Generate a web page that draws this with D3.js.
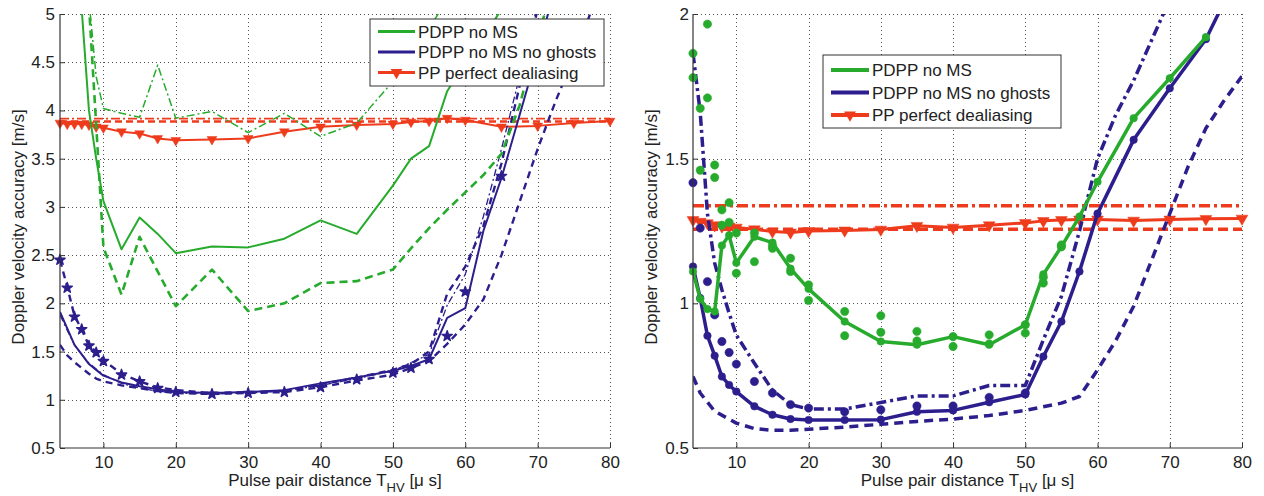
<!DOCTYPE html>
<html><head><meta charset="utf-8">
<script src="https://cdn.jsdelivr.net/npm/d3@7"></script>
<style>
body{margin:0;background:#fff;}
text{font-family:"Liberation Sans",Arial,Helvetica,sans-serif;fill:#222;}
</style></head><body>
<svg id="c" width="1264" height="496"></svg>
<script>
// ---------- tick labels / text ----------
const X_TICKS = [10,20,30,40,50,60,70,80];
const L_Y_TICKS = [0.5,1,1.5,2,2.5,3,3.5,4,4.5,5];
const R_Y_TICKS = [0.5,1,1.5,2];
const LEGEND_LABELS = ["PDPP no MS","PDPP no MS no ghosts","PP perfect dealiasing"];
const Y_LABEL = "Doppler velocity accuracy [m/s]";

// ---------- LEFT PANEL DATA ----------
const L_gS_x  = [6,7,8,9,10,12.5,15,17.5,20,25,30,35,40,45,50,52.5,55,57.5,60,62.5,65];
const L_gS_y  = [6.2,5.05,4.0,3.5,3.06,2.56,2.89,2.72,2.52,2.59,2.58,2.67,2.86,2.72,3.22,3.5,3.63,4.2,4.5,4.75,5.05];
const L_gD_x  = [8,9,10,12.5,15,20,25,30,35,40,45,50,52.5,55,57.5,60,62.5,65,67.5,70,72.5];
const L_gD_y  = [5.1,3.85,2.58,2.09,2.69,1.97,2.35,1.92,2.0,2.21,2.23,2.35,2.57,2.78,2.97,3.15,3.33,3.55,4.05,4.75,5.4];
const L_gDD_x = [7,8,9,10,12.5,15,17.5,20,25,30,35,40,45,50,55,57.5];
const L_gDD_y = [6.5,5.15,4.35,4.02,3.97,3.93,4.47,3.92,3.99,3.77,3.97,3.73,3.87,4.3,4.85,5.15];

const L_rS_x  = [4,5,6,7,8,9,10,12.5,15,17.5,20,25,30,35,40,45,50,52.5,55,57.5,60,65,70,75,80];
const L_rS_y  = [3.87,3.86,3.86,3.86,3.85,3.83,3.82,3.78,3.76,3.71,3.69,3.70,3.71,3.78,3.83,3.85,3.86,3.88,3.89,3.92,3.90,3.83,3.84,3.87,3.89];
const L_rD_x  = [4,80];
const L_rD_y  = [3.885,3.885];
const L_rDD_x = [4,80];
const L_rDD_y = [3.915,3.915];

const L_bS_x  = [4,5,6,7,8,9,10,12.5,15,17.5,20,25,30,35,40,45,50,52.5,55,57.5,60,62.5,65,67.5,70,72.5];
const L_bS_y  = [1.91,1.74,1.57,1.47,1.37,1.31,1.25,1.18,1.14,1.11,1.08,1.07,1.08,1.1,1.17,1.23,1.3,1.35,1.42,1.85,1.95,2.75,3.3,3.95,4.6,5.3];
const L_bDu_x = [4,5,6,7,8,9,10,12.5,15,17.5,20,25,30,35,40,45,50,52.5,55,57.5,60,62.5,65,67.5,70];
const L_bDu_y = [2.45,2.17,1.87,1.73,1.56,1.5,1.41,1.27,1.19,1.13,1.1,1.07,1.08,1.09,1.16,1.23,1.31,1.37,1.5,2.1,2.38,2.8,3.45,4.25,5.05];
const L_bDD_x = [4,5,6,7,8,9,10,12.5,15,17.5,20,25,30,35,40,45,50,55,57.5,60,62.5,65,67.5,70];
const L_bDD_y = [1.88,1.72,1.57,1.47,1.38,1.32,1.26,1.17,1.12,1.09,1.07,1.06,1.07,1.09,1.15,1.22,1.3,1.47,1.98,2.3,2.9,3.6,4.35,5.1];
const L_bDl_x = [4,5,6,7,8,9,10,12.5,15,17.5,20,25,30,35,40,45,50,55,57.5,60,62.5,65,67.5,70,72.5,75,77.5];
const L_bDl_y = [1.57,1.46,1.39,1.33,1.27,1.22,1.19,1.15,1.12,1.09,1.07,1.06,1.07,1.08,1.13,1.2,1.26,1.4,1.58,1.78,2.04,2.5,3.05,3.6,4.1,4.55,5.05];
const L_bM_x  = [4,5,6,7,8,9,10,12.5,15,17.5,20,25,30,35,40,45,50,52.5,55,57.5,60,65];
const L_bM_y  = [2.45,2.16,1.86,1.73,1.56,1.49,1.40,1.26,1.19,1.12,1.08,1.06,1.07,1.08,1.13,1.21,1.28,1.33,1.42,1.66,2.12,3.32];

// ---------- RIGHT PANEL DATA ----------
const R_gS_x  = [4,5,6,7,8,9,10,12.5,15,17.5,20,25,30,35,40,45,50,52.5,55,57.5,60,65,70,75];
const R_gS_y  = [1.11,1.015,0.98,0.972,1.2,1.235,1.14,1.23,1.21,1.12,1.05,0.937,0.868,0.857,0.885,0.857,0.926,1.10,1.196,1.30,1.42,1.64,1.778,1.92];
const R_gDot_x = [4,5,6,7,8,9,10,12.5,15,17.5,20,25,30,35,40,45,50,52.5,55];
const R_gDotA_y = [1.864,1.674,1.965,1.478,1.323,1.348,1.243,1.243,1.2,1.156,1.064,0.972,0.957,0.903,0.885,0.891,0.926,1.09,1.202];
const R_gDotB_y = [1.78,1.46,1.71,1.435,1.27,1.28,1.104,1.144,1.19,1.11,1.01,0.888,0.90,0.87,0.851,0.86,0.897,1.07,1.195];

const R_bS_x  = [4,5,6,7,8,9,10,12.5,15,17.5,20,25,30,35,40,45,50,52.5,55,57.5,60,65,70,75,77.5];
const R_bS_y  = [1.127,1.018,0.888,0.819,0.747,0.718,0.695,0.644,0.615,0.60,0.597,0.597,0.598,0.625,0.63,0.658,0.685,0.816,0.937,1.11,1.31,1.565,1.743,1.913,2.04];
const R_bDot_x = [4,5,6,7,8,9,10,12.5,15,17.5,20,25,30,35,40,45,50];
const R_bDot_y = [1.417,1.26,1.075,0.96,0.868,0.83,0.79,0.73,0.69,0.65,0.638,0.625,0.632,0.645,0.645,0.675,0.69];
const R_bDD_x = [4,5,6,7,8,9,10,12.5,15,17.5,20,25,30,35,40,45,50,52.5,55,57.5,60,62.5,65,67.5,70];
const R_bDD_y = [1.864,1.66,1.31,1.139,1.047,0.966,0.89,0.793,0.70,0.65,0.635,0.635,0.657,0.68,0.68,0.716,0.716,0.874,1.024,1.25,1.5,1.65,1.77,1.91,2.05];
const R_bDl_x = [4,5,7,10,12.5,15,17.5,20,25,30,35,40,45,50,55,57.5,60,62.5,65,67.5,70,72.5,75,77.5,80];
const R_bDl_y = [0.747,0.69,0.627,0.586,0.567,0.561,0.561,0.565,0.572,0.582,0.592,0.6,0.612,0.63,0.655,0.678,0.77,0.87,0.99,1.15,1.31,1.47,1.605,1.7,1.785];

const R_rS_x  = [4,5,6,7,8,9,10,12.5,15,17.5,20,25,30,35,40,45,50,52.5,55,57.5,60,65,70,75,80];
const R_rS_y  = [1.288,1.282,1.277,1.27,1.266,1.265,1.262,1.256,1.248,1.245,1.25,1.252,1.255,1.268,1.262,1.27,1.278,1.285,1.288,1.29,1.29,1.286,1.29,1.292,1.293];
const R_rD_x  = [4,80];
const R_rD_y  = [1.256,1.256];
const R_rDD_x = [4,80];
const R_rDD_y = [1.337,1.337];

// ---------- styling ----------
const GREEN = "#27ab2d", BLUE = "#2c1f8d", RED = "#ee3b1c";
const svg = d3.select("#c");
const defs = svg.append("defs");

function drawPanel(cfg){
  const x = d3.scaleLinear().domain(cfg.xd).range([cfg.l, cfg.r]);
  const y = d3.scaleLinear().domain(cfg.yd).range([cfg.b, cfg.t]);
  const g = svg.append("g");
  const cid = "clip-" + cfg.name;
  defs.append("clipPath").attr("id", cid).append("rect")
    .attr("x", cfg.l).attr("y", cfg.t).attr("width", cfg.r - cfg.l).attr("height", cfg.b - cfg.t);

  // grid
  const grid = g.append("g").attr("stroke", "#555").attr("stroke-width", 1).attr("stroke-dasharray", "1,3");
  grid.selectAll(".gx").data(X_TICKS).join("line")
    .attr("x1", d => Math.round(x(d)) + 0.5).attr("x2", d => Math.round(x(d)) + 0.5)
    .attr("y1", cfg.t).attr("y2", cfg.b);
  grid.selectAll(".gy").data(cfg.yt.filter(v => v > cfg.yd[0])).join("line")
    .attr("y1", d => Math.round(y(d)) + 0.5).attr("y2", d => Math.round(y(d)) + 0.5)
    .attr("x1", cfg.l).attr("x2", cfg.r);

  // series
  const line = d3.line().x(d => x(d[0])).y(d => y(d[1]));
  cfg.series.forEach(s => {
    const pts = d3.zip(s.xs, s.ys);
    if (!s.noLine) {
      g.append("path").datum(pts).attr("d", line)
        .attr("fill", "none").attr("stroke", s.color).attr("stroke-width", s.w)
        .attr("stroke-dasharray", s.dash || null).attr("stroke-linejoin", "round")
        .attr("clip-path", `url(#${cid})`);
    }
    if (s.marker) {
      const type = s.marker === "v" ? d3.symbolTriangle : s.marker === "star" ? d3.symbolStar : d3.symbolCircle;
      const mp = pts.filter(p => p[1] >= cfg.yd[0] && p[1] <= cfg.yd[1] && p[0] >= cfg.xd[0] && p[0] <= cfg.xd[1] && (s.mmax === undefined || p[0] <= s.mmax));
      g.append("g").selectAll("path").data(mp).join("path")
        .attr("transform", d => `translate(${x(d[0])},${y(d[1])})` + (s.marker === "v" ? " rotate(180)" : ""))
        .attr("d", d3.symbol(type, s.ms))
        .attr("fill", s.color).attr("stroke", s.color).attr("stroke-width", s.mw || 0.5)
        .attr("stroke-linejoin", "round");
    }
  });

  // axes
  const ax = g.append("g").attr("transform", `translate(0,${cfg.b})`)
    .call(d3.axisBottom(x).tickValues(X_TICKS).tickSize(-5).tickSizeOuter(0).tickPadding(8).tickFormat(d => String(d)));
  const ay = g.append("g").attr("transform", `translate(${cfg.l},0)`)
    .call(d3.axisLeft(y).tickValues(cfg.yt).tickSize(-5).tickSizeOuter(0).tickPadding(cfg.ypad).tickFormat(d => String(d)));
  [ax, ay].forEach(a => {
    a.selectAll("text").attr("font-size", 17).attr("font-family", '"Liberation Sans",Arial,sans-serif').attr("fill", "#222");
    a.selectAll("line").attr("stroke", "#333");
    a.select(".domain").attr("stroke", "#333").attr("stroke-width", 1.2);
  });
  ax.select(".domain").attr("d", `M${cfg.l},0H${cfg.r}`);
  ay.select(".domain").attr("d", `M0,${cfg.b}V${cfg.t}`);

  // axis labels
  const cx = (cfg.l + cfg.r) / 2;
  const xl = g.append("text").attr("x", cx).attr("y", 486).attr("text-anchor", "middle").attr("font-size", 17);
  xl.append("tspan").text("Pulse pair distance T");
  xl.append("tspan").attr("font-size", 13).attr("dy", 6).text("HV");
  xl.append("tspan").attr("dy", -6).text(" [μ s]");
  g.append("text").attr("transform", `translate(${cfg.ylx},${(cfg.t + cfg.b) / 2 - 4}) rotate(-90)`)
    .attr("text-anchor", "middle").attr("font-size", 17).text(Y_LABEL);

  // legend
  const L = cfg.legend;
  const lg = g.append("g");
  lg.append("rect").attr("x", L.x).attr("y", L.y).attr("width", L.w).attr("height", L.h)
    .attr("fill", "#fff").attr("stroke", "#333").attr("stroke-width", 1);
  const lcol = [GREEN, BLUE, RED];
  LEGEND_LABELS.forEach((lab, i) => {
    const yy = L.y + L.r0 + i * L.dy;
    lg.append("line").attr("x1", L.x + 8).attr("x2", L.x + 8 + L.len).attr("y1", yy).attr("y2", yy)
      .attr("stroke", lcol[i]).attr("stroke-width", L.lw);
    if (i === 2) {
      lg.append("path").attr("transform", `translate(${L.x + 8 + L.len / 2},${yy}) rotate(180)`)
        .attr("d", d3.symbol(d3.symbolTriangle, 60)).attr("fill", RED);
    }
    lg.append("text").attr("x", L.x + 11 + L.len).attr("y", yy + 6).attr("font-size", 17).text(lab);
  });
}

// ---------- LEFT ----------
drawPanel({
  name: "L", l: 60, r: 610, t: 14, b: 448, xd: [4, 80], yd: [0.5, 5], yt: L_Y_TICKS, ypad: 5, ylx: 24,
  legend: { x: 370, y: 19, w: 234, h: 67, r0: 12.5, dy: 20.5, len: 37, lw: 3 },
  series: [
    { xs: L_rDD_x, ys: L_rDD_y, color: RED, w: 1.8, dash: "9,3,2,3" },
    { xs: L_rD_x, ys: L_rD_y, color: RED, w: 2.6, dash: "7,4" },
    { xs: L_rS_x, ys: L_rS_y, color: RED, w: 2, marker: "v", ms: 42 },
    { xs: L_bDl_x, ys: L_bDl_y, color: BLUE, w: 2.4, dash: "7,5" },
    { xs: L_bDD_x, ys: L_bDD_y, color: BLUE, w: 1.3, dash: "7,3,2,3" },
    { xs: L_bDu_x, ys: L_bDu_y, color: BLUE, w: 2.4, dash: "7,5" },
    { xs: L_bS_x, ys: L_bS_y, color: BLUE, w: 2 },
    { xs: L_bM_x, ys: L_bM_y, color: BLUE, noLine: true, marker: "star", ms: 32, mw: 1.5 },
    { xs: L_gDD_x, ys: L_gDD_y, color: GREEN, w: 1.5, dash: "8,3,2,3" },
    { xs: L_gD_x, ys: L_gD_y, color: GREEN, w: 2.6, dash: "8,5" },
    { xs: L_gS_x, ys: L_gS_y, color: GREEN, w: 2 }
  ]
});

// ---------- RIGHT ----------
drawPanel({
  name: "R", l: 693, r: 1242, t: 14, b: 448, xd: [4, 80], yd: [0.5, 2], yt: R_Y_TICKS, ypad: 4, ylx: 657,
  legend: { x: 823, y: 55, w: 238, h: 73, r0: 15, dy: 22.5, len: 38, lw: 4 },
  series: [
    { xs: R_rDD_x, ys: R_rDD_y, color: RED, w: 3.5, dash: "11,4,3,4" },
    { xs: R_rD_x, ys: R_rD_y, color: RED, w: 3.5, dash: "10,5" },
    { xs: R_rS_x, ys: R_rS_y, color: RED, w: 3, marker: "v", ms: 60 },
    { xs: R_bDl_x, ys: R_bDl_y, color: BLUE, w: 3.5, dash: "9,6" },
    { xs: R_bDD_x, ys: R_bDD_y, color: BLUE, w: 3.5, dash: "10,4,3,4" },
    { xs: R_bDot_x, ys: R_bDot_y, color: BLUE, noLine: true, marker: "o", ms: 55 },
    { xs: R_bS_x, ys: R_bS_y, color: BLUE, w: 3.5, marker: "o", ms: 45, mmax: 75 },
    { xs: R_gDot_x, ys: R_gDotA_y, color: GREEN, noLine: true, marker: "o", ms: 55 },
    { xs: R_gDot_x, ys: R_gDotB_y, color: GREEN, noLine: true, marker: "o", ms: 55 },
    { xs: R_gS_x, ys: R_gS_y, color: GREEN, w: 3.5, marker: "o", ms: 45 }
  ]
});
</script>
</body></html>
